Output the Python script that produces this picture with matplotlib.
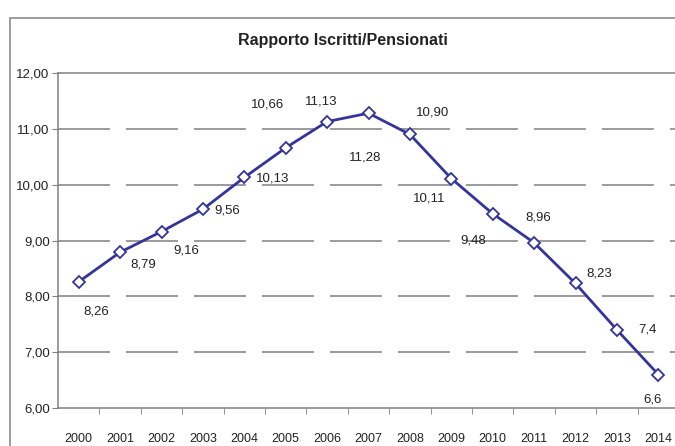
import matplotlib
matplotlib.use('Agg')
import matplotlib.pyplot as plt
from matplotlib.patches import Rectangle
from matplotlib.ticker import FixedLocator, FuncFormatter

# Dati
anni = ['2000', '2001', '2002', '2003', '2004', '2005', '2006', '2007',
        '2008', '2009', '2010', '2011', '2012', '2013', '2014']
rapporto = [8.26, 8.79, 9.16, 9.56, 10.13, 10.66, 11.13, 11.28,
            10.90, 10.11, 9.48, 8.96, 8.23, 7.4, 6.6]
etichette = ['8,26', '8,79', '9,16', '9,56', '10,13', '10,66', '11,13', '11,28',
             '10,90', '10,11', '9,48', '8,96', '8,23', '7,4', '6,6']

# spostamento delle etichette (pixel: dx, dy verso il basso)
spost = [(18, 30), (23, 12), (25, 19), (24, 1), (28, 1), (-18, -43), (-6, -20),
         (-3, 44), (23, -22), (-22, 20), (-19, 27), (4, -25), (24, -10),
         (31, 0), (-6, 25)]

plt.rcParams['font.family'] = ['Liberation Sans', 'DejaVu Sans']

W, H = 675, 446
fig = plt.figure(figsize=(W / 100, H / 100), dpi=100)

# bordo del grafico
fig.patches.append(Rectangle((10 / W, -0.1), 1.2, 1 - 18 / H + 0.1,
                             transform=fig.transFigure, fill=False,
                             edgecolor='#8c8c8c', linewidth=1.2))

ax = fig.add_axes([58 / W, 1 - 408 / H, 621 / W, 335 / H])
x = list(range(len(anni)))

ax.set_xlim(-0.5, len(anni) - 0.5)
ax.set_ylim(6, 12)

# griglia tratteggiata
for v in range(7, 12):
    ax.axhline(v, color='#808080', linewidth=1.1, dashes=(34, 10.5), zorder=1)

ax.plot(x, rapporto, color='#34349a', linewidth=2, marker='D', markersize=6.5,
        markerfacecolor='white', markeredgecolor='#34349a', markeredgewidth=1.3,
        zorder=3)

for xi, yi, lab, (dx, dy) in zip(x, rapporto, etichette, spost):
    ax.annotate(lab, (xi, yi), xytext=(dx * 0.72, -dy * 0.72),
                textcoords='offset points', ha='center', va='center',
                fontsize=9.5, color='#222222')

ax.set_yticks(range(6, 13))
ax.yaxis.set_major_formatter(FuncFormatter(lambda v, p: f'{v:.2f}'.replace('.', ',')))
ax.set_xticks(x)
ax.set_xticklabels(anni)
ax.xaxis.set_minor_locator(FixedLocator([i - 0.5 for i in range(1, len(anni))]))
ax.tick_params(axis='x', which='major', length=0, pad=18, labelsize=9, colors='#222222')
ax.tick_params(axis='x', which='minor', length=4, direction='out', color='#808080')
ax.tick_params(axis='y', length=4, direction='out', color='#808080', labelsize=9.5,
               labelcolor='#222222', pad=2)

for s in ['left', 'bottom', 'top']:
    ax.spines[s].set_color('#808080')
    ax.spines[s].set_linewidth(1.1)
ax.spines['right'].set_visible(False)

fig.text(343 / W, 1 - 40 / H, 'Rapporto Iscritti/Pensionati', ha='center', va='center',
         fontsize=11.5, fontweight='bold', color='#222222')

fig.savefig('out.png', dpi=100)
